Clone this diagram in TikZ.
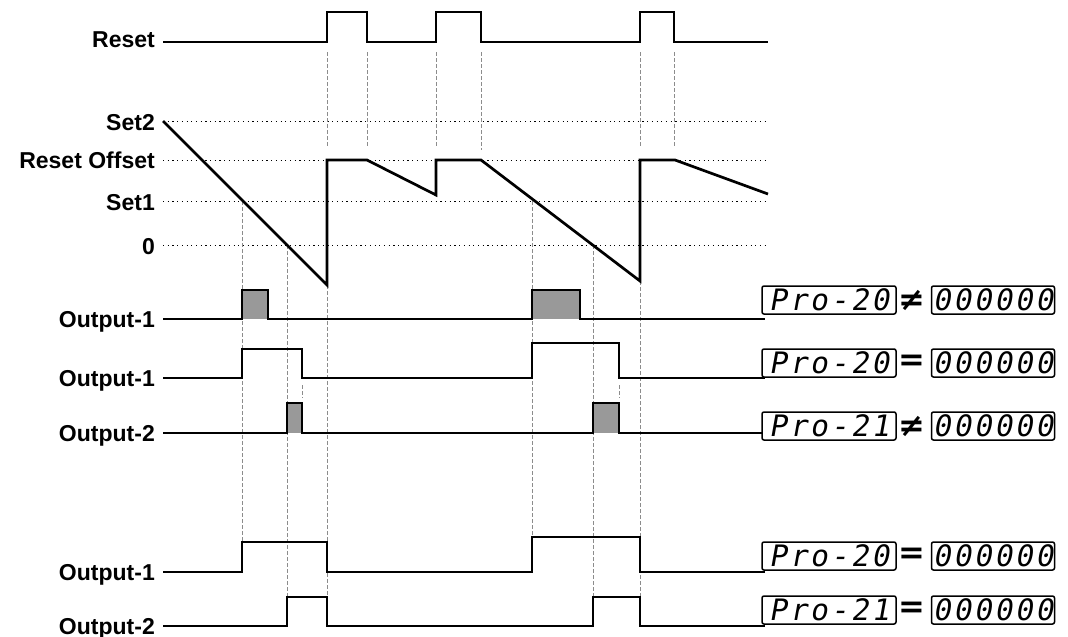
\documentclass[tikz,border=0pt]{standalone}
\usepackage{fontspec}
\setmainfont{Liberation Sans}
\newfontfamily\segfont[FakeSlant=0.18]{DejaVu Sans Mono}
\newfontfamily\relfont{DejaVu Sans}
\definecolor{pulsegray}{RGB}{153,153,153}
\definecolor{guidegray}{RGB}{140,140,140}
\newcommand\sg[1]{\makebox[20.5pt]{#1}}
\begin{document}
\begin{tikzpicture}[x=1pt,y=-1pt,
  wave/.style={line width=2.7pt, line join=miter},
  guide/.style={draw=guidegray, line width=0.8pt, dash pattern=on 4pt off 2pt},
  level/.style={line width=1pt, dash pattern=on 1.2pt off 3.5pt},
  lbl/.style={anchor=base east, inner sep=0pt, font=\bfseries\fontsize{23}{26}\selectfont},
  dbox/.style={draw, line width=1.5pt, rounded corners=2pt, minimum width=134pt, minimum height=28pt, inner sep=0pt, font=\segfont\fontsize{29.5}{29.5}\selectfont},
  dboxr/.style={dbox, minimum width=123pt},
  rel/.style={inner sep=0pt, font=\relfont\bfseries\fontsize{32}{32}\selectfont}]
\useasboundingbox (0,0) rectangle (1068,637);

% guide lines
\foreach \x/\a/\b in {327/52/146, 367/52/146, 436/52/146, 481/52/150, 640/52/146, 674/52/146,
  242/201/541, 287/245/597, 327/285/597, 532/201/537, 593/245/597, 640/281/597,
  302/385/398, 619/385/398}
  \draw[guide] (\x,\a) -- (\x,\b);

% level lines
\foreach \y in {121,160,201,245}
  \draw[level] (163,\y) -- (768,\y);

% labels
\node[lbl] (lreset) at (155,47) {Reset};
\node[lbl] (lset2) at (155,130) {Set2};
\node[lbl] (lroff) at (155,168) {Reset Offset};
\node[lbl] (lset1) at (155,210) {Set1};
\node[lbl] (lzero) at (155,254) {0};
\node[lbl] (lo1a) at (155,327.5) {Output-1};
\node[lbl] (lo1b) at (155,386.5) {Output-1};
\node[lbl] (lo2a) at (155,441.5) {Output-2};
\node[lbl] (lo1c) at (155,580) {Output-1};
\node[lbl] (lo2b) at (155,634) {Output-2};

% Reset waveform
\draw[wave] (163,42) -- (327,42) -- (327,12) -- (367,12) -- (367,42) -- (436,42) -- (436,12)
  -- (481,12) -- (481,42) -- (640,42) -- (640,12) -- (674,12) -- (674,42) -- (768,42);

% counter value
\draw[wave] (163,121) -- (327,285) -- (327,160) -- (367,160) -- (436,195) -- (436,160)
  -- (481,160) -- (640,281) -- (640,160) -- (675,160) -- (768,194);

% Output-1 (row A)
\fill[pulsegray] (242,290) rectangle (268,319);
\fill[pulsegray] (532,290) rectangle (580,319);
\draw[wave] (163,319) -- (242,319) -- (242,290) -- (268,290) -- (268,319) -- (532,319)
  -- (532,290) -- (580,290) -- (580,319) -- (765,319);

% Output-1 (row B)
\draw[wave] (163,378) -- (242,378) -- (242,349) -- (302,349) -- (302,378) -- (532,378)
  -- (532,343) -- (619,343) -- (619,378) -- (765,378);

% Output-2 (row C)
\fill[pulsegray] (287,403) rectangle (302,433);
\fill[pulsegray] (593,403) rectangle (619,433);
\draw[wave] (163,433) -- (287,433) -- (287,403) -- (302,403) -- (302,433) -- (593,433)
  -- (593,403) -- (619,403) -- (619,433) -- (765,433);

% Output-1 (row D)
\draw[wave] (163,572) -- (242,572) -- (242,542) -- (327,542) -- (327,572) -- (532,572)
  -- (532,537) -- (640,537) -- (640,572) -- (765,572);

% Output-2 (row E)
\draw[wave] (163,626) -- (287,626) -- (287,597) -- (327,597) -- (327,626) -- (593,626)
  -- (593,597) -- (640,597) -- (640,626) -- (765,626);

% displays
\foreach \n/\y/\p in {1/300/0, 2/363/0, 3/426/1, 4/556/0, 5/610/1} {
  \node[dbox, fill=white] (pa\n) at (829,\y) {\sg{P}\sg{r}\sg{o}\sg{-}\sg{2}\ifnum\p=0 \sg{0}\else\sg{1}\fi};
  \node[dboxr] (pb\n) at (993,\y) {\sg{0}\sg{0}\sg{0}\sg{0}\sg{0}\sg{0}};
}
\node[rel] (r1) at (912,300) {≠};
\node[rel] (r2) at (912,363) {=};
\node[rel] (r3) at (912,426) {≠};
\node[rel] (r4) at (912,556) {=};
\node[rel] (r5) at (912,610) {=};
\end{tikzpicture}
\end{document}
